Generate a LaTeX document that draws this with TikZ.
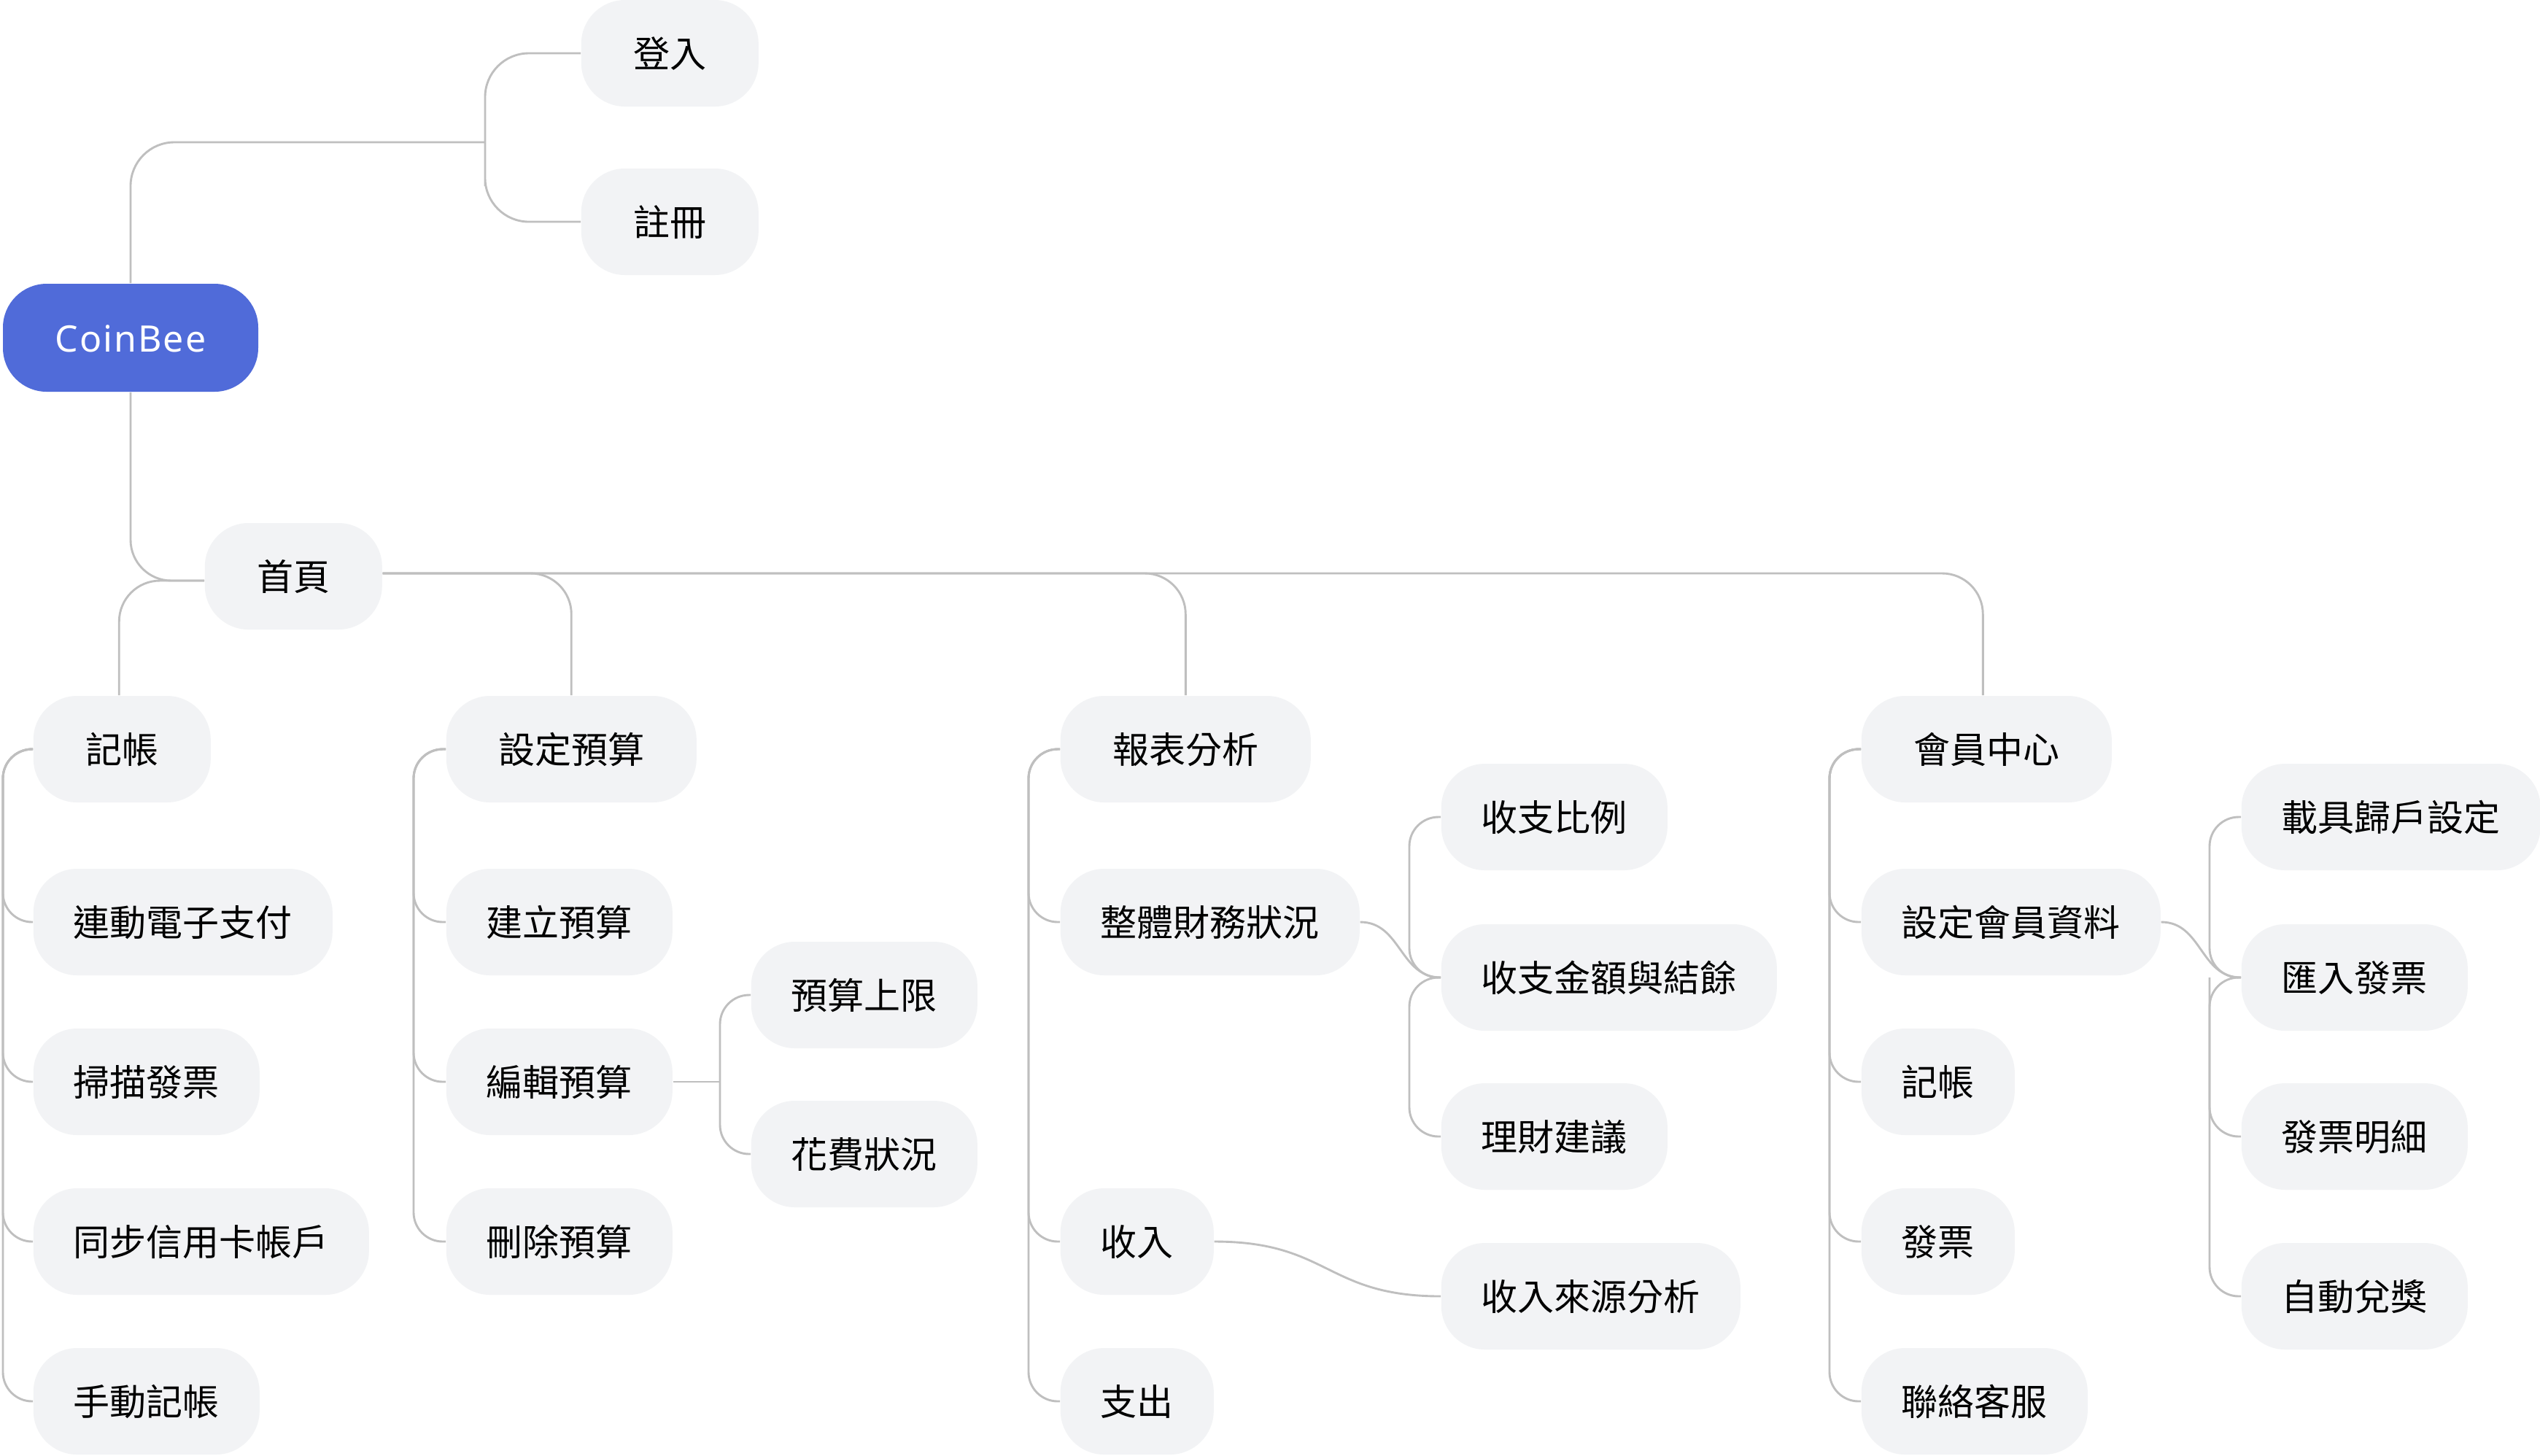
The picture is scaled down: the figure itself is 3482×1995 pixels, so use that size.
\documentclass[tikz,border=0pt]{standalone}
\usepackage{fontspec}
\setmainfont{Noto Sans CJK TC}
\newfontfamily\latinfont[LetterSpace=4]{Noto Sans}
\usetikzlibrary{backgrounds}
\definecolor{nodefill}{HTML}{F2F3F5}
\definecolor{linecol}{HTML}{BFBFBF}
\definecolor{rootblue}{HTML}{506BD9}
\begin{document}
\begin{tikzpicture}[x=0.25pt,y=-0.25pt,
  box/.style={fill=nodefill, rounded corners=15pt, minimum height=36.5pt, inner ysep=0pt,
    anchor=west, font=\fontsize{12.5pt}{15pt}\selectfont, text height=11pt, text depth=1.5pt},
  lvA/.style={box, inner xsep=17.875pt},
  lvB/.style={box, inner xsep=13.75pt},
  conn/.style={draw=linecol, line width=0.72pt, rounded corners=10pt},
  ]
\useasboundingbox (0,0) rectangle (3482,1995);
% root
\node[box, anchor=center, fill=rootblue, text=white, minimum width=87.5pt, minimum height=37pt,
  font=\latinfont\fontsize{12.5pt}{15pt}\selectfont] (coin) at (179,463) {CoinBee};
% level 1
\node[lvA] (login) at (796,73) {登入};
\node[lvA] (reg) at (796,304) {註冊};
\node[lvA] (home) at (280,790) {首頁};
% level 2
\node[lvA] (jz) at (45,1027) {記帳};
\node[lvA] (budget) at (611,1027) {設定預算};
\node[lvA] (report) at (1453,1027) {報表分析};
\node[lvA] (member) at (2551,1027) {會員中心};
% 記帳 children
\node[lvB] (a1) at (45,1264) {連動電子支付};
\node[lvB] (a2) at (45,1483) {掃描發票};
\node[lvB] (a3) at (45,1702) {同步信用卡帳戶};
\node[lvB] (a4) at (45,1921) {手動記帳};
% 設定預算 children
\node[lvB] (b1) at (611,1264) {建立預算};
\node[lvB] (b2) at (611,1483) {編輯預算};
\node[lvB] (b3) at (611,1702) {刪除預算};
\node[lvB] (e1) at (1029,1364) {預算上限};
\node[lvB] (e2) at (1029,1582) {花費狀況};
% 報表分析 children
\node[lvB] (c1) at (1453,1264) {整體財務狀況};
\node[lvB] (c2) at (1453,1702) {收入};
\node[lvB] (c3) at (1453,1921) {支出};
\node[lvB] (f1) at (1975,1120) {收支比例};
\node[lvB] (f2) at (1975,1340) {收支金額與結餘};
\node[lvB] (f3) at (1975,1558) {理財建議};
\node[lvB] (src) at (1975,1777) {收入來源分析};
% 會員中心 children
\node[lvB] (d1) at (2551,1264) {設定會員資料};
\node[lvB] (d2) at (2551,1483) {記帳};
\node[lvB] (d3) at (2551,1702) {發票};
\node[lvB] (d4) at (2551,1921) {聯絡客服};
\node[lvB] (m1) at (3072,1120) {載具歸戶設定};
\node[lvB] (m2) at (3072,1340) {匯入發票};
\node[lvB] (m3) at (3072,1558) {發票明細};
\node[lvB] (m4) at (3072,1777) {自動兌獎};

\begin{pgfonlayer}{background}
\fill[white] (0,0) rectangle (3482,1995);
% root to login / register
\coordinate (jl) at (665,195);
\draw[conn, rounded corners=15pt] (coin.north) |- (jl);
\draw[conn, rounded corners=15pt] (login.west) -| (jl) |- (reg.west);
% root to home
\draw[conn, rounded corners=14pt] (coin.south) |- ([yshift=-1.5pt]home.west);
% home to headers
\draw[conn, rounded corners=14pt] ([yshift=-1.5pt]home.west) -| ([xshift=-1pt]jz.north);
\draw[conn, rounded corners=14pt] ([yshift=1pt]home.east) -| (budget.north);
\draw[conn, rounded corners=14pt] ([yshift=1pt]home.east) -| (report.north);
\draw[conn, rounded corners=14pt] ([yshift=1pt]home.east) -| ([xshift=-1.25pt]member.north);
% spines
\coordinate (sA) at (4,0);
\foreach \c in {a1,a2,a3,a4} \draw[conn] (jz.west) -| (sA |- \c.west) -- (\c.west);
\coordinate (sB) at (567,0);
\foreach \c in {b1,b2,b3} \draw[conn] (budget.west) -| (sB |- \c.west) -- (\c.west);
\coordinate (sC) at (1410,0);
\foreach \c in {c1,c2,c3} \draw[conn] (report.west) -| (sC |- \c.west) -- (\c.west);
\coordinate (sD) at (2508,0);
\foreach \c in {d1,d2,d3,d4} \draw[conn] (member.west) -| (sD |- \c.west) -- (\c.west);
% 編輯預算
\coordinate (sE) at (987,0);
\draw[conn] (b2.east) -- (sE |- b2.east);
\draw[conn] (e1.west) -| (sE |- b2.east) |- (e2.west);
% 整體財務狀況
\coordinate (sF) at (1932,0);
\draw[conn] (c1.east) .. controls +(56,0) and +(-56,0) .. (f2.west);
\draw[conn] (f1.west) -| (sF |- f2.west) -- (f2.west);
\draw[conn] (f3.west) -| (sF |- f2.west) -- (f2.west);
% 收入
\draw[conn] (c2.east) .. controls +(158,0) and +(-158,0) .. (src.west);
% 設定會員資料
\coordinate (sM) at (3029,0);
\draw[conn] (d1.east) .. controls +(56,0) and +(-56,0) .. (m2.west);
\draw[conn] (m1.west) -| (sM |- m2.west) -- (m2.west);
\draw[conn] (m4.west) -| (sM |- m2.west) -- (m2.west);
\draw[conn] (sM |- m2.west) |- (m3.west);
\end{pgfonlayer}
\end{tikzpicture}
\end{document}
